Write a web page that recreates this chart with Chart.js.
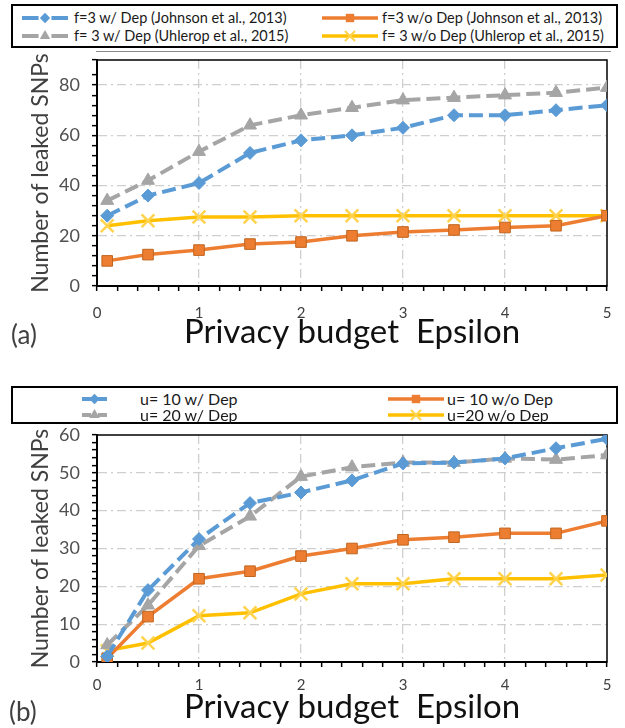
<!DOCTYPE html>
<html>
<head>
<meta charset="utf-8">
<script src="https://cdn.jsdelivr.net/npm/chart.js@4"></script>
<style>
  body { margin: 0; width: 625px; height: 728px; position: relative; background: #fff; font-family: Lato, sans-serif; overflow: hidden; }
  canvas { position: absolute; left: 0; }
  .legend { position: absolute; left: 11px; width: 607px; border: 2px solid #000; box-sizing: border-box; }
  .item { position: absolute; display: flex; align-items: center; white-space: nowrap; color: #1a1a1a; }
  .item svg { display: block; }
  .panel-tag { position: absolute; font-size: 26px; line-height: 30px; color: #404040; }
  .rule { position: absolute; left: 96px; width: 515px; top: 51px; height: 1px; background: #8a8a8a; }
</style>
</head>
<body>
<div class="legend" id="legendA" style="top:4px;height:44px"></div>
<div class="rule"></div>
<canvas id="chartA" width="625" height="364" style="top:0"></canvas>
<div class="panel-tag" style="left:11px;top:319px">(a)</div>

<div class="legend" id="legendB" style="top:386px;height:38px"></div>
<canvas id="chartB" width="625" height="364" style="top:364px"></canvas>
<div class="panel-tag" style="left:9px;top:696px">(b)</div>

<script>
// privacy budget values on the x axis
var epsilon = [0.1, 0.5, 1, 1.5, 2, 2.5, 3, 3.5, 4, 4.5, 5];

// (a) f = 3
var aLabels = [
  "f=3 w/ Dep (Johnson et al., 2013)",
  "f=3 w/o Dep (Johnson et al., 2013)",
  "f= 3 w/ Dep (Uhlerop et al., 2015)",
  "f= 3 w/o Dep (Uhlerop et al., 2015)"
];
var aDepJohnson   = [28, 36, 41, 53, 58, 60, 63, 68, 68, 70, 72];
var aNoDepJohnson = [10, 12.5, 14.3, 16.7, 17.5, 20, 21.5, 22.3, 23.3, 24, 28];
var aDepUhlerop   = [34, 42, 53.5, 64, 68, 71, 74, 75, 76, 77, 79];
var aNoDepUhlerop = [24, 26, 27.5, 27.5, 28, 28, 28, 28, 28, 28, 28];

// (b) u = 10 / 20
var bLabels = ["u= 10 w/ Dep", "u= 10 w/o Dep", "u= 20 w/ Dep", "u=20  w/o Dep"];
var bDep10   = [1.5, 19, 32.5, 42, 44.8, 48, 52.5, 52.7, 53.8, 56.5, 59];
var bNoDep10 = [1, 12, 22, 24, 28, 30, 32.3, 33, 34, 34, 37.3];
var bDep20   = [4.5, 15, 30.7, 38.5, 49, 51.5, 52.7, 52.7, 53.8, 53.5, 54.7];
var bNoDep20 = [3, 5, 12.2, 13, 18, 20.7, 20.7, 22, 22, 22, 23];

var xTickLabels = ["0", "1", "2", "3", "4", "5"];

// series looks: blue diamond dashed, orange square, grey triangle dashed, yellow cross
var looks = [
  { color: "#5B9BD5", fill: "#5B9BD5", point: "rectRot", radius: 6.5, dash: [14, 6], width: 4, pw: 1 },
  { color: "#ED7D31", fill: "#ED7D31", edge: "#C0651F", point: "rect", radius: 7.5, dash: [], width: 3.5, pw: 1 },
  { color: "#A5A5A5", fill: "#A5A5A5", point: "triangle", radius: 7.5, dash: [14, 6], width: 4, pw: 1 },
  { color: "#FFC000", fill: "rgba(0,0,0,0)", edge: "#FFD34D", point: "crossRot", radius: 9, dash: [], width: 3.5, pw: 2.5 }
];

function pairs(ys) {
  return ys.map(function (y, i) { return { x: epsilon[i], y: y }; });
}

function isWhole(v) { return Math.abs(v - Math.round(v)) < 1e-6; }

var plotBox = {
  id: "plotBox",
  beforeDatasetsDraw: function (chart) {
    var a = chart.chartArea, c = chart.ctx;
    c.save();
    c.strokeStyle = "#000";
    c.lineWidth = 1.5;
    c.strokeRect(a.left, a.top, a.right - a.left, a.bottom - a.top);
    c.restore();
  }
};

function makeChart(id, series, labels, opt) {
  var datasets = series.map(function (ys, i) {
    var lk = looks[i];
    return {
      label: labels[i],
      data: pairs(ys),
      borderColor: lk.color,
      backgroundColor: lk.fill,
      borderWidth: lk.width,
      borderDash: lk.dash,
      pointStyle: lk.point,
      pointRadius: lk.radius,
      pointBackgroundColor: lk.fill,
      pointBorderColor: lk.edge || lk.color,
      pointBorderWidth: lk.pw,
      tension: 0
    };
  });

  return new Chart(document.getElementById(id), {
    type: "line",
    data: { datasets: datasets },
    options: {
      responsive: false,
      animation: false,
      layout: { padding: { top: opt.top, right: 18, left: 0, bottom: 0 } },
      plugins: { legend: { display: false }, tooltip: { enabled: false } },
      scales: {
        x: {
          type: "linear",
          min: 0,
          max: 5,
          afterFit: function (s) { s.height = opt.xHeight; },
          ticks: {
            stepSize: 0.2,
            autoSkip: false,
            maxRotation: 0,
            padding: opt.xPad,
            color: "#404040",
            font: { family: "Lato", size: 15 },
            callback: function (v) { return isWhole(v) ? xTickLabels[Math.round(v)] : ""; }
          },
          grid: {
            color: function (c) {
              var v = c.tick ? c.tick.value : 0;
              return isWhole(v) && v > 0.5 && v < 4.5 ? "#cfcfcf" : "rgba(0,0,0,0)";
            },
            lineWidth: 1.3,
            tickColor: "#000",
            tickLength: 5,
            tickWidth: 1.5
          },
          border: { color: "#000", width: 2, dash: [9, 4, 2, 4] },
          title: {
            display: true,
            text: "Privacy budget  Epsilon",
            color: "#111",
            font: { family: "Lato", size: 33 },
            padding: { top: 0, bottom: opt.titlePad }
          }
        },
        y: {
          min: 0,
          max: opt.yMax,
          afterFit: function (s) { s.width = 97; },
          ticks: {
            stepSize: opt.yMinor,
            autoSkip: false,
            padding: 12,
            color: "#505050",
            font: { family: "Lato", size: 18 },
            callback: function (v) { return v % opt.yMajor === 0 ? v : ""; }
          },
          grid: {
            color: function (c) {
              var v = c.tick ? c.tick.value : 0;
              return v % opt.yMajor === 0 && v > 0 && v < opt.yMax ? "#cfcfcf" : "rgba(0,0,0,0)";
            },
            lineWidth: 1.3,
            tickColor: "#000",
            tickLength: 5,
            tickWidth: 1.5
          },
          border: { color: "#000", width: 2, dash: [9, 4, 2, 4] },
          title: {
            display: true,
            text: "Number of leaked SNPs",
            color: "#404040",
            font: { family: "Lato", size: 23 },
            padding: { top: 27, bottom: 0 }
          }
        }
      }
    },
    plugins: [plotBox]
  });
}

function sample(lk, w) {
  var h = 16, m = h / 2, cx = w / 2, r = lk.radius * 0.8;
  var s = '<svg width="' + w + '" height="' + h + '">';
  if (lk.dash.length) {
    s += '<line x1="0" y1="' + m + '" x2="' + (w * 0.36) + '" y2="' + m + '" stroke="' + lk.color + '" stroke-width="' + lk.width + '"/>';
    s += '<line x1="' + (w * 0.64) + '" y1="' + m + '" x2="' + w + '" y2="' + m + '" stroke="' + lk.color + '" stroke-width="' + lk.width + '"/>';
  } else {
    s += '<line x1="0" y1="' + m + '" x2="' + w + '" y2="' + m + '" stroke="' + lk.color + '" stroke-width="' + lk.width + '"/>';
  }
  if (lk.point === "rectRot") {
    s += '<polygon points="' + cx + ',' + (m - r) + ' ' + (cx + r) + ',' + m + ' ' + cx + ',' + (m + r) + ' ' + (cx - r) + ',' + m + '" fill="' + lk.fill + '"/>';
  } else if (lk.point === "rect") {
    var q = r * 0.7;
    s += '<rect x="' + (cx - q) + '" y="' + (m - q) + '" width="' + (2 * q) + '" height="' + (2 * q) + '" fill="' + lk.fill + '"/>';
  } else if (lk.point === "triangle") {
    s += '<polygon points="' + cx + ',' + (m - r) + ' ' + (cx + r * 0.87) + ',' + (m + r * 0.5) + ' ' + (cx - r * 0.87) + ',' + (m + r * 0.5) + '" fill="' + lk.fill + '"/>';
  } else {
    var d = r * 0.7;
    s += '<path d="M' + (cx - d) + ' ' + (m - d) + 'L' + (cx + d) + ' ' + (m + d) + 'M' + (cx + d) + ' ' + (m - d) + 'L' + (cx - d) + ' ' + (m + d) + '" stroke="' + lk.edge + '" stroke-width="2"/>';
  }
  return s + '</svg>';
}

function makeLegend(id, labels, spots, size) {
  var box = document.getElementById(id);
  labels.forEach(function (t, i) {
    var p = spots[i];
    var el = document.createElement("div");
    el.className = "item";
    el.style.left = p.x + "px";
    el.style.top = p.y + "px";
    el.style.fontSize = size + "px";
    el.innerHTML = sample(looks[i], p.w) + '<span style="margin-left:' + p.gap + 'px">' + t + '</span>';
    box.appendChild(el);
  });
}

makeChart("chartA", [aDepJohnson, aNoDepJohnson, aDepUhlerop, aNoDepUhlerop], aLabels,
  { top: 60, xHeight: 78, xPad: 13, titlePad: 12, yMax: 90, yMajor: 20, yMinor: 4 });
makeChart("chartB", [bDep10, bNoDep10, bDep20, bNoDep20], bLabels,
  { top: 71, xHeight: 66, xPad: 9, titlePad: 1, yMax: 60, yMajor: 10, yMinor: 2 });

makeLegend("legendA", aLabels, [
  { x: 9, y: 3, w: 46, gap: 6 }, { x: 309, y: 3, w: 56, gap: 4 },
  { x: 9, y: 21, w: 46, gap: 6 }, { x: 309, y: 21, w: 56, gap: 4 }
], 14.5);
makeLegend("legendB", bLabels, [
  { x: 69, y: 1, w: 25, gap: 33 }, { x: 375, y: 1, w: 56, gap: 3 },
  { x: 69, y: 17, w: 25, gap: 33 }, { x: 375, y: 17, w: 56, gap: 3 }
], 16);
</script>
</body>
</html>
